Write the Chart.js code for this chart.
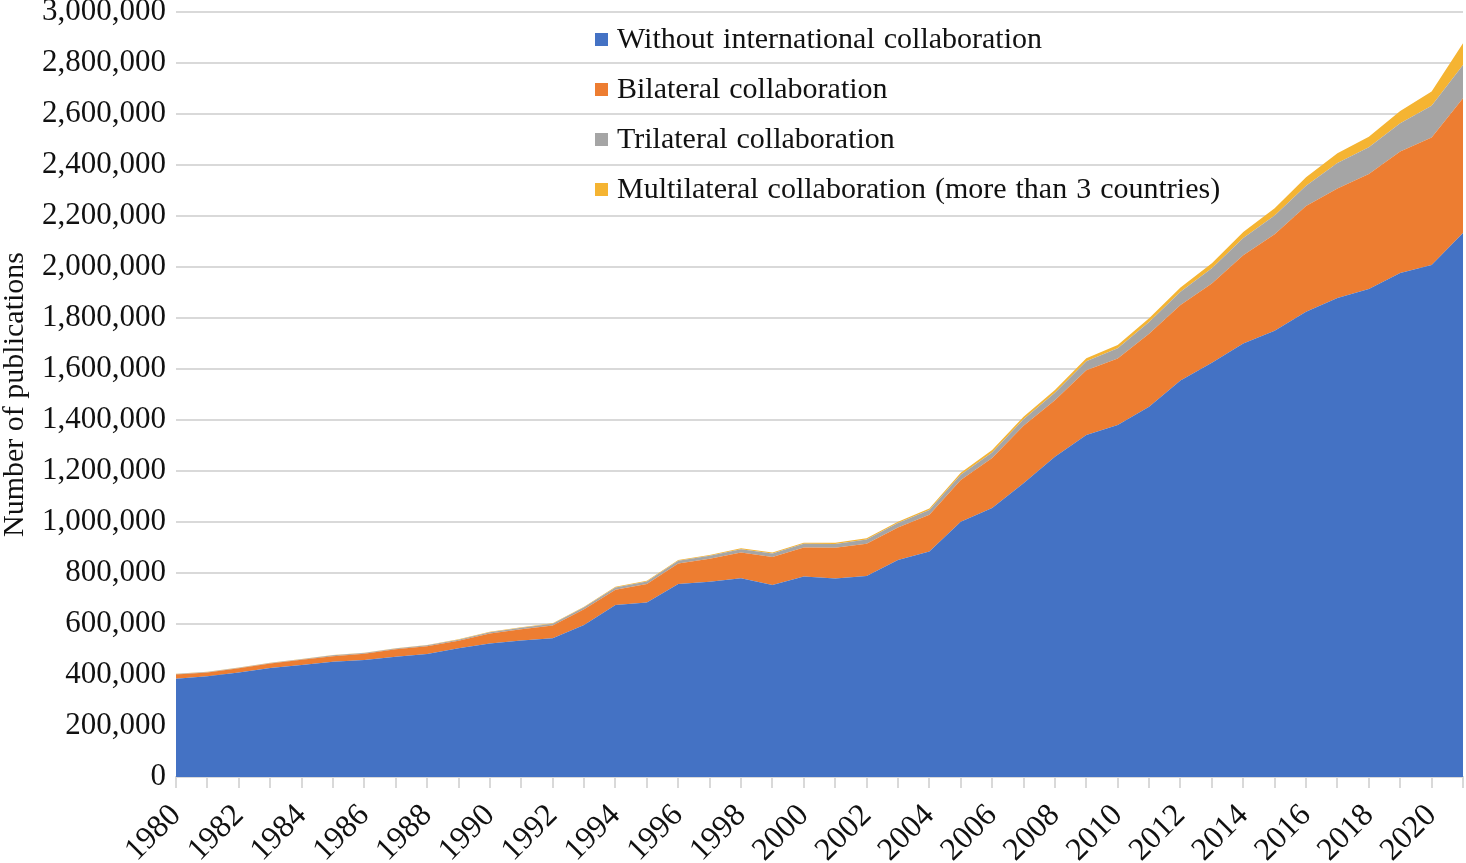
<!DOCTYPE html>
<html>
<head>
<meta charset="utf-8">
<script src="https://cdn.jsdelivr.net/npm/chart.js@4.4.1/dist/chart.umd.min.js"></script>
<style>
  html, body { margin: 0; padding: 0; background: #fff; }
  #wrap { width: 1466px; height: 863px; position: relative; }
</style>
</head>
<body>
<div id="wrap"><canvas id="c"></canvas></div>
<script>
const years = [1980,1981,1982,1983,1984,1985,1986,1987,1988,1989,1990,1991,1992,1993,1994,1995,1996,1997,1998,1999,2000,2001,2002,2003,2004,2005,2006,2007,2008,2009,2010,2011,2012,2013,2014,2015,2016,2017,2018,2019,2020,2021];
const withoutIntl = [385000,395000,410000,427000,439000,452000,459000,472000,482000,505000,524000,535000,544000,596000,675000,684000,757000,766000,779000,753000,786000,778000,788000,851000,884000,1001000,1055000,1152000,1256000,1341000,1380000,1452000,1555000,1625000,1700000,1750000,1825000,1878000,1914000,1976000,2008000,2133000];
const bilateral = [17000,15000,16000,18000,21000,22000,24000,29000,31000,29000,39000,44000,50000,62000,59000,73000,80000,90000,101000,110000,114000,121000,127000,127000,144000,164000,196000,225000,221000,254000,261000,286000,296000,310000,346000,378000,414000,430000,451000,477000,500000,529000];
const trilateral = [2000,2000,2000,2000,2000,3000,3000,3000,4000,4000,5000,6000,7000,8000,9000,10000,11000,12000,13000,13000,15000,15000,16000,18000,19000,20000,22000,26000,30000,35000,40000,46000,52000,60000,68000,74000,80000,100000,105000,111000,124000,130000];
const multilateral = [1000,1000,1000,1000,1000,1000,1000,1000,1000,2000,2000,2000,2000,2000,3000,3000,3000,3000,4000,4000,4000,5000,5000,5000,6000,8000,9000,10000,11000,12000,13000,15000,17000,20000,23000,28000,33000,38000,41000,48000,56000,85000];
const seriesNames = ["Without international collaboration","Bilateral collaboration","Trilateral collaboration","Multilateral collaboration (more than 3 countries)"];
const seriesColors = ["#4472C4","#ED7D31","#A5A5A5","#F5B432"];
const yTitle = "Number of publications";

const FONT = "'Liberation Serif', 'Times New Roman', serif";
const series = [withoutIntl, bilateral, trilateral, multilateral];

const legendPlugin = {
  id: 'insideLegend',
  afterDraw(chart) {
    const ctx = chart.ctx;
    ctx.save();
    ctx.font = "30px " + FONT;
    ctx.textBaseline = 'middle';
    ctx.textAlign = 'left';
    if ('wordSpacing' in ctx) ctx.wordSpacing = '1.5px';
    chart.data.datasets.forEach((ds, i) => {
      const cy = 39 + i * 50;
      ctx.fillStyle = ds.backgroundColor;
      ctx.fillRect(595, cy - 6, 13, 13);
      ctx.fillStyle = '#111';
      ctx.fillText(ds.label, 617, cy + 1);
    });
    ctx.restore();
  }
};

new Chart(document.getElementById('c'), {
  type: 'line',
  data: {
    labels: years.map(String),
    datasets: series.map((d, i) => ({
      label: seriesNames[i],
      data: d,
      backgroundColor: seriesColors[i],
      borderColor: seriesColors[i],
      borderWidth: 0,
      pointRadius: 0,
      tension: 0,
      fill: i === 0 ? 'origin' : '-1'
    }))
  },
  options: {
    responsive: true,
    maintainAspectRatio: false,
    animation: false,
    layout: { padding: { top: 12, right: 3, left: 0, bottom: 0 } },
    plugins: { legend: { display: false }, tooltip: { enabled: false } },
    scales: {
      x: {
        type: 'category',
        offset: false,
        grid: { display: true, drawOnChartArea: false, drawTicks: true, tickLength: 11, color: '#d9d9d9', lineWidth: 2 },
        border: { display: true, color: '#d9d9d9', width: 2 },
        ticks: {
          autoSkip: false,
          maxRotation: 45,
          minRotation: 45,
          padding: 9,
          color: '#111',
          font: { family: FONT, size: 32 },
          callback: function(v, i) { return years[i] % 2 === 0 ? String(years[i]) : ''; }
        },
        afterFit(s) { s.height = 86; s.paddingLeft = 0; s.paddingRight = 0; }
      },
      y: {
        stacked: true,
        min: 0,
        max: 3000000,
        grid: { color: '#d9d9d9', lineWidth: 2, drawTicks: false },
        border: { display: false },
        ticks: {
          stepSize: 200000,
          padding: 10,
          color: '#111',
          font: { family: FONT, size: 31 },
          callback: v => v.toLocaleString('en-US')
        },
        title: {
          display: true,
          text: yTitle,
          color: '#111',
          font: { family: FONT, size: 30, lineHeight: 1 },
          padding: { top: 0, bottom: 0 }
        },
        afterFit(s) { s.width = 176; s.paddingTop = 0; s.paddingBottom = 0; }
      }
    }
  },
  plugins: [legendPlugin]
});
</script>
</body>
</html>
